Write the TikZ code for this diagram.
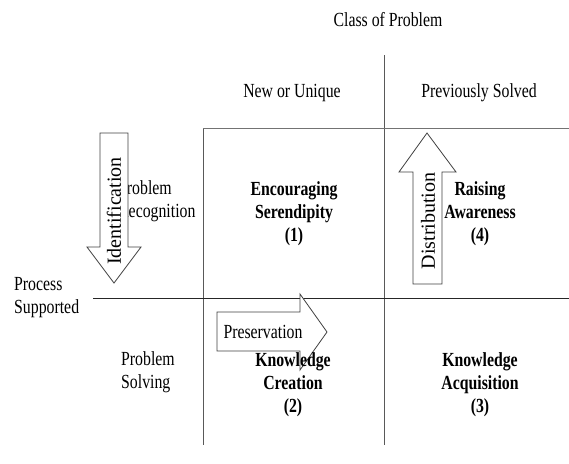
\documentclass[tikz,border=0pt]{standalone}
\usepackage{fontspec}
\setmainfont[FakeStretch=0.79]{Liberation Serif}
\newfontfamily\rotfont{Liberation Serif}

\tikzset{
	Label/.style = {font=\fontsize{20}{23}\selectfont, align=center, inner sep=0pt},
	Cell/.style = {Label, font=\fontsize{20}{23}\selectfont\bfseries},
	Grid/.style = {draw=black!65, line width=0.9pt},
	BlockArrow/.style = {draw=black!75, fill=white, line width=0.8pt, line join=miter},
	ArrowText/.style = {font=\fontsize{20}{23}\selectfont\rotfont, inner sep=0pt}
}

\begin{document}
\begin{tikzpicture}[x=1pt, y=-1pt]
	\useasboundingbox (0,0) rectangle (569,463);
	% grid
	\coordinate (TopMid) at (384,55);
	\coordinate (BotMid) at (384,445);
	\coordinate (TopLeft) at (203,128);
	\coordinate (BotLeft) at (203,445);
	\coordinate (TopRight) at (569,128);
	\coordinate (MidLeft) at (93,298);
	\coordinate (MidRight) at (569,298);
	\draw[Grid] (TopMid) -- (BotMid);
	\draw[Grid] (TopLeft) -- (BotLeft);
	\draw[Grid, draw=black!55] (TopLeft) -- (TopRight);
	\draw[Grid, draw=black!85] (MidLeft) -- (MidRight);
	% headings
	\node[Label] (Class) at (388,20) {Class of Problem};
	\node[Label] (New) at (292,93) {New or Unique};
	\node[Label] (Solved) at (479,93) {Previously Solved};
	\node[Label, anchor=west, align=left] (Process) at (14,298) {Process\\Supported};
	\node[Label, anchor=west, align=left] (Recog) at (118,201) {Problem\\Recognition};
	\node[Label, anchor=west, align=left] (Solving) at (121,372) {Problem\\Solving};
	% identification
	\draw[BlockArrow] (100,133) -- (128,133) -- (128,247) -- (141,247)
		-- (114,283) -- (87,247) -- (100,247) -- cycle;
	\node[ArrowText, rotate=90] (Ident) at (114,211) {Identification};
	% distribution
	\draw[BlockArrow] (413,284) -- (442,284) -- (442,172) -- (456,172)
		-- (427,133) -- (399,172) -- (413,172) -- cycle;
	\node[ArrowText, rotate=90] (Distr) at (428,221) {Distribution};
	% preservation
	\draw[BlockArrow] (217,312) -- (300,312) -- (300,294) -- (327,332)
		-- (300,370) -- (300,351) -- (217,351) -- cycle;
	\node[Label] (Preserv) at (263,332) {Preservation};
	% quadrants
	\node[Cell] (Q1) at (294,214) {Encouraging\\Serendipity\\(1)};
	\node[Cell] (Q4) at (480,214) {Raising\\Awareness\\(4)};
	\node[Cell] (Q2) at (293,385) {Knowledge\\Creation\\(2)};
	\node[Cell] (Q3) at (480,385) {Knowledge\\Acquisition\\(3)};
\end{tikzpicture}
\end{document}
